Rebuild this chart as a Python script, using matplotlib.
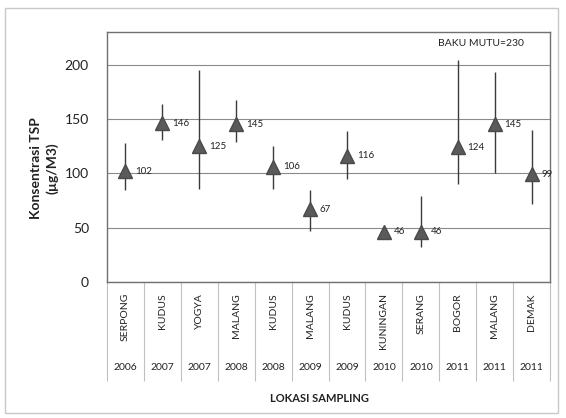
import matplotlib
matplotlib.use('Agg')
import matplotlib.pyplot as plt
import matplotlib.transforms as mtransforms
from matplotlib.patches import Rectangle
import numpy as np

plt.rcParams['font.family'] = ['Lato', 'DejaVu Sans']

# data
locations = ['SERPONG', 'KUDUS', 'YOGYA', 'MALANG', 'KUDUS', 'MALANG',
             'KUDUS', 'KUNINGAN', 'SERANG', 'BOGOR', 'MALANG', 'DEMAK']
years = ['2006', '2007', '2007', '2008', '2008', '2009',
         '2009', '2010', '2010', '2011', '2011', '2011']
tsp_mean = [102, 146, 125, 145, 106, 67, 116, 46, 46, 124, 145, 99]
tsp_min = [85, 131, 86, 129, 86, 47, 95, 46, 32, 90, 100, 72]
tsp_max = [128, 164, 195, 167, 125, 85, 139, 46, 79, 204, 193, 140]

x = np.arange(len(locations))
mean = np.array(tsp_mean)
yerr = [mean - np.array(tsp_min), np.array(tsp_max) - mean]

fig = plt.figure(figsize=(5.66, 4.18), dpi=100)
ax = fig.add_axes([0.189, 0.3254, 0.783, 0.598])

# outer chart border
fig.patches.append(Rectangle((5 / 566, 1 - 413 / 418), 553 / 566, 405 / 418,
                             transform=fig.transFigure, fill=False,
                             edgecolor='#c8c8c8', linewidth=1))

ax.errorbar(x, mean, yerr=yerr, fmt='none', ecolor='#3a3a3a',
            elinewidth=1, capsize=0, zorder=3)
ax.plot(x, mean, linestyle='none', marker='^', markersize=9.5,
        color='#5a5a5a', markeredgecolor='#4a4a4a', zorder=4)

for xi, v in zip(x, tsp_mean):
    ax.annotate(str(v), (xi, v), xytext=(7, 0), textcoords='offset points',
                fontsize=7, va='center', ha='left', color='#222222')

ax.set_xlim(-0.5, len(locations) - 0.5)
ax.set_ylim(0, 230)
ax.set_yticks([0, 50, 100, 150, 200])
ax.yaxis.grid(True, color='#8a8a8a', linewidth=0.8)
ax.set_axisbelow(True)
for s in ax.spines.values():
    s.set_color('#707070')
    s.set_linewidth(1)

ax.tick_params(axis='y', length=0, labelsize=10, pad=13, colors='#222222')

# category names, separators below the axis
ax.set_xticks(x)
ax.set_xticklabels(locations, rotation=90, fontsize=7.5, va='top')
ax.tick_params(axis='x', which='major', length=0, pad=8, colors='#222222')
ax.set_xticks(np.arange(-0.5, len(locations)), minor=True)
ax.tick_params(axis='x', which='minor', length=71, color='#c0c0c0', width=0.8)

trans = mtransforms.blended_transform_factory(ax.transData, fig.transFigure)
for xi, yr in zip(x, years):
    ax.text(xi, 1 - 368 / 418, yr, transform=trans, ha='center', va='center',
            fontsize=7.5, color='#222222')

ax.text(0.94, 0.955, 'BAKU MUTU=230', transform=ax.transAxes, ha='right',
        va='center', fontsize=7.5, color='#222222')

fig.text(0.078, 0.598, 'Konsentrasi TSP\n(µg/M3)', rotation=90, ha='center',
         va='center', fontsize=10, fontweight='bold', color='#222222',
         linespacing=1.3)
fig.text(0.565, 1 - 398 / 418, 'LOKASI SAMPLING', ha='center', va='center',
         fontsize=8, fontweight='bold', color='#222222')

fig.savefig('out.png', dpi=100)
